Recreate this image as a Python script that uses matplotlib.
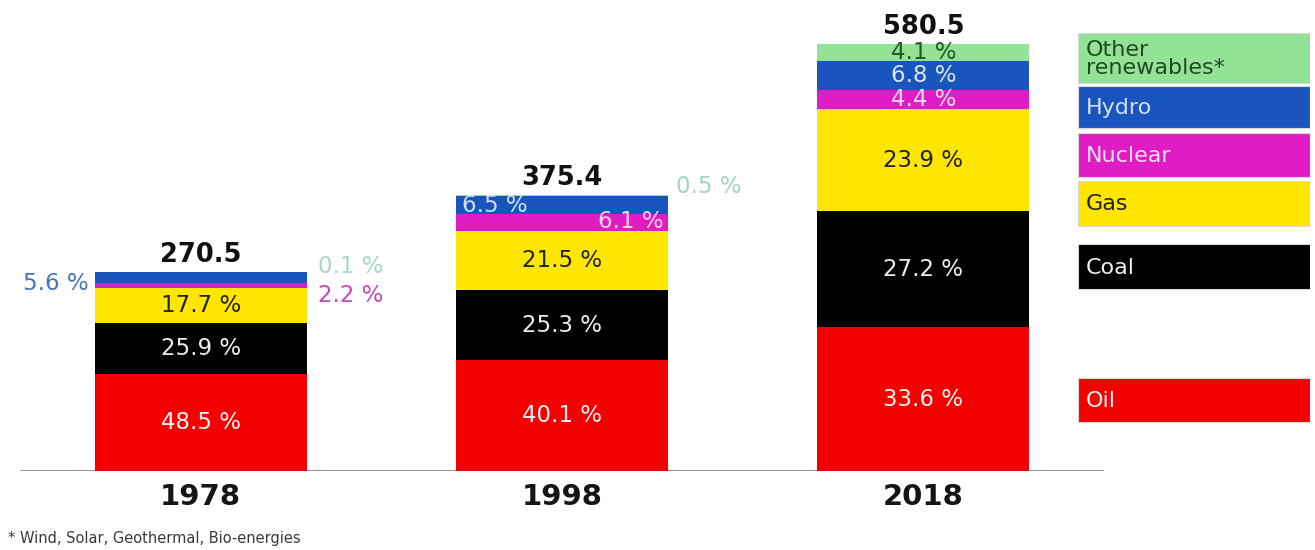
import matplotlib
matplotlib.use("Agg")
import matplotlib.pyplot as plt
from matplotlib.patches import Rectangle

plt.rcParams['font.family'] = ['DejaVu Sans']

# Primary energy consumption, totals and shares by source
years = ["1978", "1998", "2018"]
totals = [270.5, 375.4, 580.5]
sources = ["Oil", "Coal", "Gas", "Nuclear", "Hydro", "Other renewables*"]
oil = [48.5, 40.1, 33.6]
coal = [25.9, 25.3, 27.2]
gas = [17.7, 21.5, 23.9]
nuclear = [2.2, 6.1, 4.4]
hydro = [5.6, 6.5, 6.8]
other = [0.1, 0.5, 4.1]
shares = [oil, coal, gas, nuclear, hydro, other]

colors = ["#F50000", "#000000", "#FFE600", "#E01CC4", "#1A55BE", "#93E296"]
legend_labels = ["Oil", "Coal", "Gas", "Nuclear", "Hydro", "Other\nrenewables*"]
legend_text_colors = ["#F2F2F2", "#F0F0F0", "#222222", "#F6E0F2", "#CFE0F8", "#1E4A24"]

W, H = 1315, 550
fig = plt.figure(figsize=(W / 100, H / 100), dpi=100)
fig.patch.set_facecolor("white")

# main axes: baseline at pixel row 471, spanning x pixels 20..1104
ax = fig.add_axes([20 / W, (H - 471) / H, 1084 / W, 471 / H])
ax.set_xlim(-0.5, 2.5)
ax.set_ylim(0, 640)
ax.axis("off")
ax.axhline(0, color="#9A9A9A", lw=2.2, zorder=1)

x = list(range(len(years)))
bw = 0.587
bottoms = [0.0] * len(years)
seg = {}  # (source index, year index) -> (bottom, height)
for si, vals in enumerate(shares):
    heights = [t * v / 100 for t, v in zip(totals, vals)]
    ax.bar(x, heights, bw, bottom=bottoms, color=colors[si], lw=0, zorder=2)
    for i, h in enumerate(heights):
        seg[(si, i)] = (bottoms[i], h)
    bottoms = [b + h for b, h in zip(bottoms, heights)]

lab_fs = 16.5

def mid(si, i):
    b, h = seg[(si, i)]
    return b + h / 2

# Oil, coal, gas labels centred in each bar
for i in x:
    ax.text(i, mid(0, i), f"{oil[i]} %", ha="center", va="center",
            fontsize=lab_fs, color="#F4F4F4", zorder=3)
    ax.text(i, mid(1, i), f"{coal[i]} %", ha="center", va="center",
            fontsize=lab_fs, color="#EEEEEE", zorder=3)
    ax.text(i, mid(2, i), f"{gas[i]} %", ha="center", va="center",
            fontsize=lab_fs, color="#222222", zorder=3)

# 1978: small shares labelled outside the bar
left0 = 0 - bw / 2
right0 = 0 + bw / 2
ax.annotate(f"{hydro[0]} %", (left0, mid(4, 0)), xytext=(-4, -4),
            textcoords="offset points", ha="right", va="center",
            fontsize=lab_fs, color="#4674BA")
ax.annotate(f"{other[0]} %", (right0, totals[0]), xytext=(8, 4),
            textcoords="offset points", ha="left", va="center",
            fontsize=lab_fs, color="#A6D8C2")
ax.annotate(f"{nuclear[0]} %", (right0, mid(3, 0)), xytext=(8, -7),
            textcoords="offset points", ha="left", va="center",
            fontsize=lab_fs, color="#C64AB6")

# 1998: hydro and nuclear inside, other renewables outside
left1 = 1 - bw / 2
right1 = 1 + bw / 2
ax.annotate(f"{hydro[1]} %", (left1, mid(4, 1)), xytext=(4, 0),
            textcoords="offset points", ha="left", va="center",
            fontsize=lab_fs, color="#CFE0F8", zorder=3)
ax.annotate(f"{nuclear[1]} %", (right1, mid(3, 1)), xytext=(-3, 1),
            textcoords="offset points", ha="right", va="center",
            fontsize=lab_fs, color="#F8D4EE", zorder=4)
ax.annotate(f"{other[1]} %", (right1, totals[1]), xytext=(6, 6),
            textcoords="offset points", ha="left", va="center",
            fontsize=lab_fs, color="#A0D8BF")

# 2018: all shares inside
ax.text(2, mid(5, 2), f"{other[2]} %", ha="center", va="center",
        fontsize=lab_fs, color="#1E5A28", zorder=3)
ax.text(2, mid(4, 2), f"{hydro[2]} %", ha="center", va="center",
        fontsize=lab_fs, color="#DCE6F8", zorder=3)
ax.text(2, mid(3, 2), f"{nuclear[2]} %", ha="center", va="center",
        fontsize=lab_fs, color="#F8DAF0", zorder=3)

# totals above bars
for i in x:
    ax.annotate(f"{totals[i]}", (i, totals[i]), xytext=(0, 3),
                textcoords="offset points", ha="center", va="bottom",
                fontsize=18.5, fontweight="bold", color="#111111")

# year labels under the baseline
for i in x:
    ax.annotate(years[i], (i, 0), xytext=(0, -19), textcoords="offset points",
                ha="center", va="center", fontsize=21, fontweight="bold",
                color="#151515", annotation_clip=False)

# legend boxes on the right (pixel rows top..bottom)
lax = fig.add_axes([1078 / W, 0, 232 / W, 1])
lax.set_xlim(0, 232)
lax.set_ylim(H, 0)
lax.axis("off")
box_rows = [(378, 422), (244, 289), (181, 226), (133, 177), (86, 128), (33, 83)]
for k, (t, b) in enumerate(box_rows):
    lax.add_patch(Rectangle((0, t), 232, b - t, facecolor=colors[k],
                            edgecolor="#D8D8D8", lw=0.8))
    lax.text(8, (t + b) / 2 + 1, legend_labels[k], ha="left", va="center",
             fontsize=16, color=legend_text_colors[k], linespacing=0.92)

fig.text(8 / W, 1 - 538 / H, "* Wind, Solar, Geothermal, Bio-energies",
         fontsize=10.5, color="#3A3A3A", ha="left", va="center")

fig.savefig("out.png", dpi=100, facecolor="white")
